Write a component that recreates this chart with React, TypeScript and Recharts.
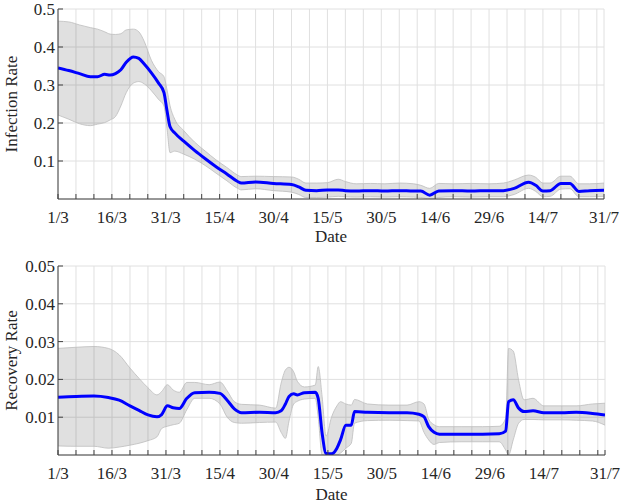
import React from 'react';
import { ComposedChart, Area, Line, XAxis, YAxis, CartesianGrid } from 'recharts';

// Day index: 0 = 1/3, 152 = 31/7
const tickDays = [0, 5, 10, 15, 20, 25, 30, 35, 40, 45, 50, 55, 60, 65, 70, 75, 80, 85, 90, 95, 100, 105, 110, 115, 120, 125, 130, 135, 140, 145, 150, 152];
const labelDays = [0, 15, 30, 45, 60, 75, 90, 105, 120, 135, 152];
const tickLabels = ['1/3', '16/3', '31/3', '15/4', '30/4', '15/5', '30/5', '14/6', '29/6', '14/7', '31/7'];

const infTicks = [0.1, 0.2, 0.3, 0.4, 0.5];
const recTicks = [0.01, 0.02, 0.03, 0.04, 0.05];

// Infection rate
const infDays = [0, 3, 6, 9, 11, 13, 14.5, 16, 17.5, 19, 21, 22.5, 24, 26, 28, 29.5, 30.3, 31.2, 32.5, 35, 38, 41, 44, 47, 50, 51, 55, 60, 65, 67, 69, 72, 75, 78, 80, 83, 87, 91, 95, 99, 101, 103.5, 106, 110, 115, 120, 124, 127, 131, 133, 135, 137, 140, 142.5, 145, 148, 152];
const infMean = [0.345, 0.338, 0.33, 0.322, 0.322, 0.328, 0.326, 0.33, 0.34, 0.36, 0.374, 0.37, 0.355, 0.332, 0.305, 0.28, 0.235, 0.19, 0.174, 0.152, 0.128, 0.106, 0.085, 0.066, 0.046, 0.042, 0.045, 0.041, 0.038, 0.032, 0.023, 0.022, 0.024, 0.024, 0.022, 0.021, 0.022, 0.021, 0.022, 0.021, 0.021, 0.01, 0.021, 0.022, 0.021, 0.022, 0.022, 0.028, 0.044, 0.036, 0.021, 0.022, 0.041, 0.041, 0.02, 0.022, 0.023];
const infLow = [0.221, 0.21, 0.198, 0.193, 0.197, 0.201, 0.208, 0.217, 0.245, 0.28, 0.305, 0.309, 0.303, 0.285, 0.262, 0.245, 0.19, 0.122, 0.126, 0.118, 0.105, 0.088, 0.068, 0.048, 0.028, 0.024, 0.027, 0.022, 0.018, 0.012, 0.004, 0.004, 0.005, 0.007, 0.006, 0.005, 0.006, 0.005, 0.006, 0.005, 0.004, 0.0, 0.004, 0.006, 0.005, 0.006, 0.006, 0.012, 0.028, 0.02, 0.006, 0.007, 0.026, 0.027, 0.006, 0.006, 0.007];
const infHigh = [0.468, 0.466, 0.458, 0.451, 0.447, 0.44, 0.434, 0.433, 0.435, 0.445, 0.447, 0.44, 0.415, 0.365, 0.335, 0.322, 0.29, 0.245, 0.21, 0.18, 0.15, 0.126, 0.103, 0.083, 0.063, 0.059, 0.06, 0.059, 0.058, 0.052, 0.042, 0.042, 0.043, 0.052, 0.046, 0.04, 0.041, 0.04, 0.042, 0.04, 0.036, 0.028, 0.041, 0.04, 0.041, 0.04, 0.042, 0.05, 0.063, 0.057, 0.042, 0.042, 0.06, 0.06, 0.04, 0.04, 0.042];

// Recovery rate
const recDays = [0, 5, 10, 14, 17, 20, 22.5, 25, 27.5, 28.8, 30.4, 32, 33.7, 35.8, 38, 42, 45, 47, 49, 51, 56, 60.5, 62, 63.2, 64.2, 65.5, 66.5, 68.5, 71.5, 72.3, 73.4, 74.5, 76, 77.5, 78.5, 80, 81.5, 82.4, 86, 92, 97, 100.3, 101.7, 103, 104.5, 106, 112, 118, 122.6, 124.4, 125.2, 126.5, 128, 129.5, 132, 135, 140, 144, 148.5, 152];
const recMean = [0.0153, 0.0155, 0.0156, 0.0152, 0.0145, 0.013, 0.0118, 0.0106, 0.0101, 0.0107, 0.013, 0.0125, 0.0123, 0.015, 0.0165, 0.0166, 0.0163, 0.0145, 0.0122, 0.0112, 0.0113, 0.0112, 0.0117, 0.0135, 0.0155, 0.0162, 0.0159, 0.0165, 0.0166, 0.015, 0.0057, 0.0004, 0.0003, 0.0018, 0.004, 0.0079, 0.0079, 0.0115, 0.0113, 0.0112, 0.0112, 0.0108, 0.0101, 0.0075, 0.006, 0.0055, 0.0055, 0.0055, 0.0056, 0.0063, 0.0141, 0.0146, 0.0124, 0.0115, 0.0117, 0.0112, 0.0112, 0.0113, 0.011, 0.0106];
const recLow = [0.0024, 0.0023, 0.0023, 0.0018, 0.0021, 0.0026, 0.0031, 0.0038, 0.0048, 0.007, 0.0076, 0.008, 0.0084, 0.012, 0.015, 0.015, 0.0135, 0.01, 0.0086, 0.0084, 0.0086, 0.0087, 0.006, 0.0044, 0.009, 0.0135, 0.0142, 0.0148, 0.015, 0.01, 0.0, 0.0, 0.0, 0.0, 0.0005, 0.0018, 0.0031, 0.0084, 0.0091, 0.0092, 0.0091, 0.009, 0.006, 0.004, 0.0028, 0.0033, 0.0035, 0.0035, 0.0035, 0.0013, 0.0, 0.004, 0.0084, 0.0094, 0.0094, 0.0093, 0.0093, 0.0092, 0.009, 0.0079];
const recHigh = [0.0282, 0.0285, 0.0287, 0.0282, 0.0265, 0.023, 0.0203, 0.0178, 0.0159, 0.0168, 0.0186, 0.0172, 0.0166, 0.0192, 0.0192, 0.0186, 0.0193, 0.017, 0.0141, 0.0134, 0.0132, 0.0124, 0.019, 0.0225, 0.0232, 0.022, 0.0195, 0.018, 0.0185, 0.0234, 0.0154, 0.005, 0.01, 0.013, 0.0141, 0.0135, 0.0132, 0.0147, 0.0135, 0.0132, 0.0132, 0.0141, 0.0135, 0.0095, 0.008, 0.0075, 0.0075, 0.0075, 0.0076, 0.0097, 0.0282, 0.0275, 0.0198, 0.0146, 0.015, 0.013, 0.013, 0.013, 0.0135, 0.0137];

const infData = infDays.map((d, i) => ({ day: d, mean: infMean[i], band: [infLow[i], infHigh[i]] }));
const recData = recDays.map((d, i) => ({ day: d, mean: recMean[i], band: [recLow[i], recHigh[i]] }));

const FONT = "'Liberation Serif', 'DejaVu Serif', serif";
const FS = 17;
const TXT = '#262626';
const AXIS = '#404040';

const fmtDay = (v: number) => {
  const i = labelDays.indexOf(v);
  return i >= 0 ? tickLabels[i] : '';
};

function Panel(props: {
  data: any[];
  height: number;
  top: number;
  right: number;
  xHeight: number;
  dateOffset: number;
  yMax: number;
  yTicks: number[];
  yLabel: string;
}) {
  const { data, height, top, right, xHeight, dateOffset, yMax, yTicks, yLabel } = props;
  const tickStyle = { fontFamily: FONT, fontSize: FS, fill: TXT };
  return (
    <ComposedChart width={624} height={height} data={data} margin={{ top, right, bottom: 0, left: 0 }}>
      <CartesianGrid stroke="#e0e0e0" strokeWidth={1} />
      <Area
        type="monotone"
        dataKey="band"
        stroke="#bcbcbc"
        strokeWidth={0.8}
        fill="#000000"
        fillOpacity={0.12}
        isAnimationActive={false}
        dot={false}
        activeDot={false}
      />
      <Line
        type="monotone"
        dataKey="mean"
        stroke="#0000ff"
        strokeWidth={3}
        dot={false}
        activeDot={false}
        isAnimationActive={false}
      />
      <XAxis
        dataKey="day"
        type="number"
        domain={[0, 152]}
        ticks={tickDays}
        interval={0}
        tickFormatter={fmtDay}
        height={xHeight}
        tickSize={-5}
        tickMargin={17}
        stroke={AXIS}
        tick={tickStyle}
        tickLine={{ stroke: AXIS }}
        allowDataOverflow
        label={{ value: 'Date', position: 'insideBottom', offset: dateOffset, style: { fontFamily: FONT, fontSize: FS, fill: TXT } }}
      />
      <XAxis
        xAxisId="top"
        orientation="top"
        dataKey="day"
        type="number"
        domain={[0, 152]}
        ticks={tickDays}
        interval={0}
        height={0}
        tickSize={-5}
        tick={false}
        stroke={AXIS}
        tickLine={{ stroke: AXIS }}
        allowDataOverflow
      />
      <YAxis
        type="number"
        domain={[0, yMax]}
        ticks={yTicks}
        interval={0}
        width={58}
        tickSize={-5}
        tickMargin={8}
        stroke={AXIS}
        tick={tickStyle}
        tickLine={{ stroke: AXIS }}
        allowDataOverflow
        label={{ value: yLabel, angle: -90, position: 'insideLeft', offset: 11, style: { textAnchor: 'middle', fontFamily: FONT, fontSize: FS, fill: TXT } }}
      />
      <YAxis
        yAxisId="right"
        orientation="right"
        type="number"
        domain={[0, yMax]}
        ticks={yTicks}
        interval={0}
        width={0}
        tickSize={-5}
        tick={false}
        stroke={AXIS}
        tickLine={{ stroke: AXIS }}
        allowDataOverflow
      />
    </ComposedChart>
  );
}

export default function App() {
  return (
    <div style={{ position: 'absolute', left: 0, top: 0, width: 624, height: 503, background: '#ffffff', overflow: 'hidden' }}>
      <Panel data={infData} height={250} top={9} right={20} xHeight={51} dateOffset={8} yMax={0.5} yTicks={infTicks} yLabel="Infection Rate" />
      <Panel data={recData} height={253} top={16} right={19} xHeight={48} dateOffset={3} yMax={0.05} yTicks={recTicks} yLabel="Recovery Rate" />
    </div>
  );
}
